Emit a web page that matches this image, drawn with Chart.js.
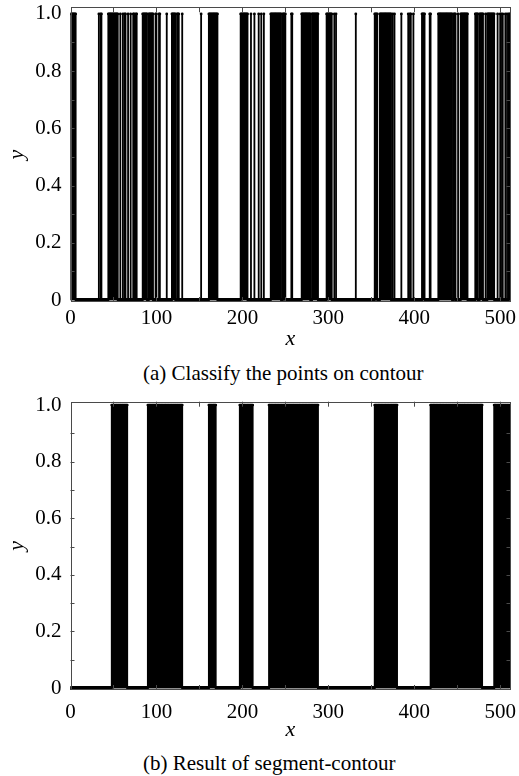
<!DOCTYPE html>
<html>
<head>
<meta charset="utf-8">
<script src="https://cdn.jsdelivr.net/npm/chart.js@4/dist/chart.umd.min.js"></script>
<style>
  body { margin: 0; background: #fff; width: 519px; height: 776px; overflow: hidden; position: relative; }
  canvas { position: absolute; left: 0; }
  .cap { position: absolute; left: 143px; font: 21px "Liberation Serif", serif; line-height: 24px; color: #000; white-space: nowrap; }
</style>
</head>
<body>
<canvas id="top" width="519" height="352" style="top:0px"></canvas>
<div class="cap" style="top:361px">(a) Classify the points on contour</div>
<canvas id="bottom" width="519" height="349" style="top:394px"></canvas>
<div class="cap" style="top:751px">(b) Result of segment-contour</div>
<script>
// contour points 0..511, value 1 on these runs (inclusive), 0 elsewhere
const pointCount = 512
const topRunStart = [0, 33, 35, 44, 58, 61, 63, 67, 70, 73, 76, 84, 91, 99, 103, 112, 118, 124, 130, 152,
  161, 198, 210, 214, 219, 222, 225, 233, 247, 257, 269, 281, 298, 307, 309, 332, 354, 360, 375, 377,
  385, 393, 395, 399, 409, 418, 428, 446, 451, 454, 471, 476, 483, 485, 497, 500, 503, 506, 508, 510]
const topRunEnd = [6, 33, 36, 55, 58, 61, 64, 67, 70, 74, 77, 89, 96, 100, 104, 112, 122, 126, 130, 152,
  171, 206, 210, 214, 219, 222, 225, 245, 250, 258, 279, 288, 304, 307, 309, 332, 357, 373, 375, 377,
  385, 393, 396, 399, 412, 419, 444, 448, 451, 462, 474, 480, 483, 493, 497, 501, 503, 506, 508, 511]
const bottomRunStart = [48, 90, 161, 197, 231, 354, 419, 493]
const bottomRunEnd = [66, 130, 169, 212, 288, 380, 479, 511]

const xTickValues = [0, 100, 200, 300, 400, 500]
const xMinorTicks = [50, 100, 150, 200, 250, 300, 350, 400, 450, 500]
const yTickValues = [0, 0.2, 0.4, 0.6, 0.8, 1.0]
const yTickLabels = ['0', '0.2', '0.4', '0.6', '0.8', '1.0']
const yMinorTicks = [0.1, 0.2, 0.3, 0.4, 0.5, 0.6, 0.7, 0.8, 0.9]

function buildSeries(starts, ends){
    var ones = [], zeros = []
    for (var i = 0; i < pointCount; i++){
        var on = false
        for (var r = 0; r < starts.length; r++){
            if (i >= starts[r] && i <= ends[r]) { on = true; break }
        }
        if (on) ones.push({x: i, y: 1})
        else zeros.push({x: i, y: 0})
    }
    return {ones: ones, zeros: zeros}
}

// frame + inward ticks like the original figure
const frameTicks = {
    id: 'frameTicks',
    afterDraw(chart){
        const ctx = chart.ctx, a = chart.chartArea
        const xs = chart.scales.x, ys = chart.scales.y
        ctx.save()
        ctx.strokeStyle = '#4a4a4a'
        ctx.lineWidth = 1
        ctx.strokeRect(Math.round(a.left) + 0.5, Math.round(a.top) + 0.5,
            Math.round(a.right - a.left) - 1, Math.round(a.bottom - a.top) - 1)
        ctx.beginPath()
        xMinorTicks.forEach(function(v){
            var px = Math.round(xs.getPixelForValue(v)) + 0.5
            ctx.moveTo(px, a.top); ctx.lineTo(px, a.top + 5)
            ctx.moveTo(px, a.bottom); ctx.lineTo(px, a.bottom - 5)
        })
        yMinorTicks.forEach(function(v){
            var py = Math.round(ys.getPixelForValue(v)) + 0.5
            ctx.moveTo(a.left, py); ctx.lineTo(a.left + 4, py)
            ctx.moveTo(a.right, py); ctx.lineTo(a.right - 4, py)
        })
        ctx.stroke()
        ctx.restore()
    }
}

function makeChart(id, starts, ends, opt){
    const s = buildSeries(starts, ends)
    const serif = 'Liberation Serif'
    return new Chart(document.getElementById(id), {
        type: 'bar',
        data: {
            datasets: [
                { type: 'bar', data: s.ones, backgroundColor: '#000', borderWidth: 0, barThickness: 1.15, grouped: false, order: 3 },
                { type: 'line', data: s.ones, showLine: false, pointRadius: 1.4, pointBorderWidth: 0, pointBackgroundColor: '#000', order: 2 },
                { type: 'line', data: s.zeros, showLine: false, pointRadius: 2, pointBorderWidth: 0, pointBackgroundColor: '#000', order: 1 }
            ]
        },
        options: {
            responsive: false,
            animation: false,
            devicePixelRatio: 1,
            layout: { padding: { top: opt.padTop, right: 8.5, left: 0, bottom: 0 } },
            plugins: { legend: { display: false }, tooltip: { enabled: false } },
            scales: {
                x: {
                    type: 'linear', min: 0, max: 512, offset: false,
                    grid: { display: false, drawTicks: false }, border: { display: false },
                    afterBuildTicks: function(scale){ scale.ticks = xTickValues.map(function(v){ return {value: v} }) },
                    ticks: { autoSkip: false, maxRotation: 0, padding: opt.xTickPad, color: '#000',
                        font: { family: serif, size: 21 }, callback: function(v){ return String(v) } },
                    title: { display: true, text: 'x', color: '#000', padding: { top: 0, bottom: 0 },
                        font: { family: serif, size: 22, style: 'italic' } },
                    afterFit: function(scale){ scale.height = opt.xHeight; scale.paddingLeft = 0; scale.paddingRight = 0 }
                },
                y: {
                    min: opt.yMin, max: opt.yMax,
                    grid: { display: false, drawTicks: false }, border: { display: false },
                    afterBuildTicks: function(scale){ scale.ticks = yTickValues.map(function(v){ return {value: v} }) },
                    ticks: { autoSkip: false, padding: 9, color: '#000', font: { family: serif, size: 21 },
                        callback: function(v){ return yTickLabels[yTickValues.indexOf(v)] } },
                    title: { display: true, text: 'y', color: '#000', padding: { top: 4, bottom: 0 },
                        font: { family: serif, size: 22, style: 'italic' } },
                    afterFit: function(scale){ scale.width = 70.5; scale.paddingTop = 0; scale.paddingBottom = 0 }
                }
            }
        },
        plugins: [frameTicks]
    })
}

makeChart('top', topRunStart, topRunEnd, { padTop: 7.3, xTickPad: 4, xHeight: 50, yMin: -0.007, yMax: 1.023 })
makeChart('bottom', bottomRunStart, bottomRunEnd, { padTop: 7.7, xTickPad: 9.5, xHeight: 53, yMin: -0.007, yMax: 1.012 })
</script>
</body>
</html>
